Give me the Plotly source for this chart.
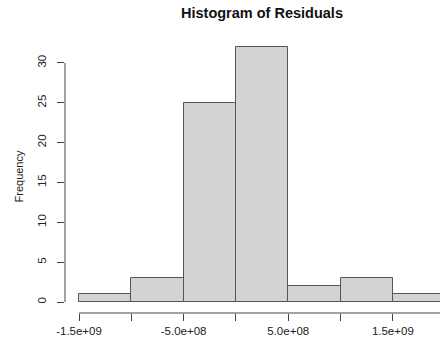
import plotly.graph_objects as go

bin_left = [-1.5e9, -1.0e9, -5.0e8, 0.0, 5.0e8, 1.0e9, 1.5e9]
bin_width = 5.0e8
counts = [1, 3, 25, 32, 2, 3, 1]
y_ticks = [0, 5, 10, 15, 20, 25, 30]
x_ticks = [-1.5e9, -1.0e9, -5.0e8, 0.0, 5.0e8, 1.0e9, 1.5e9]
x_ticktext = ["-1.5e+09", "", "-5.0e+08", "", "5.0e+08", "", "1.5e+09"]

centers = [b + bin_width / 2 for b in bin_left]

fig = go.Figure()
fig.add_trace(go.Bar(
    x=centers, y=counts, width=[bin_width] * len(counts),
    marker=dict(color="#D3D3D3", line=dict(color="#555555", width=1)),
    hoverinfo="skip",
))

axis_col = "#444444"
fig.add_shape(type="line", xref="paper", yref="y", x0=0, x1=0,
              y0=y_ticks[0], y1=y_ticks[-1], line=dict(color=axis_col, width=1))
fig.add_shape(type="line", xref="x", yref="paper", x0=x_ticks[0],
              x1=bin_left[-1] + bin_width, y0=0, y1=0,
              line=dict(color=axis_col, width=1))

fig.update_layout(
    width=440, height=341,
    margin=dict(l=65, r=0, t=40, b=28, autoexpand=False),
    paper_bgcolor="white", plot_bgcolor="white",
    showlegend=False,
    font=dict(family="Liberation Sans, Arial, sans-serif", color="#222222"),
    title=dict(text="<b>Histogram of Residuals</b>", x=262 / 440, xref="container",
               xanchor="center", y=1 - 13 / 341, yref="container", yanchor="middle",
               font=dict(size=14.5, color="#111111")),
    bargap=0,
)
fig.update_xaxes(
    range=[-1.634e9, 1.951e9], showgrid=False, zeroline=False, showline=False,
    tickvals=x_ticks, ticktext=x_ticktext, ticks="outside", ticklen=7,
    tickcolor=axis_col, tickfont=dict(size=11.5), fixedrange=True, automargin=False,
)
fig.update_yaxes(
    range=[-1.38, 32.87], showgrid=False, zeroline=False, showline=False,
    tickvals=y_ticks, ticks="outside", ticklen=7, tickcolor=axis_col,
    tickangle=-90, tickfont=dict(size=11.5), ticklabelstandoff=6,
    title=dict(text="Frequency", font=dict(size=11), standoff=10),
    fixedrange=True, automargin=False,
)

fig.write_html("out.html", config={"displayModeBar": False},
               post_script="document.body.style.margin='0';")
